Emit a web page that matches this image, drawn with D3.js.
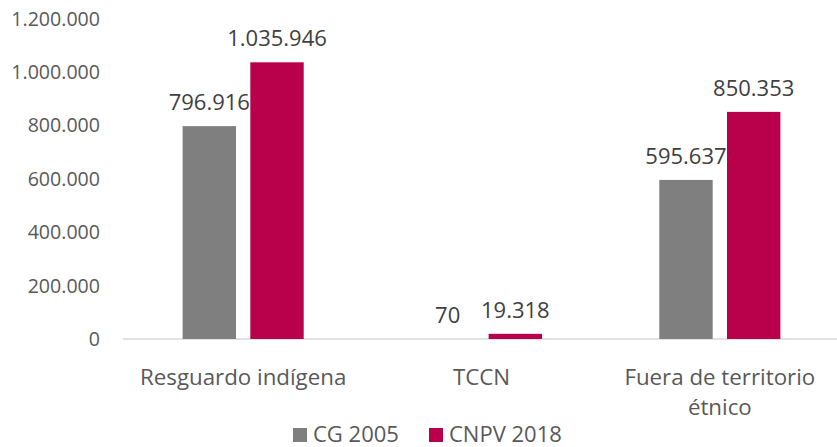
<!DOCTYPE html>
<html>
<head>
<meta charset="utf-8">
<script src="https://cdn.jsdelivr.net/npm/d3@7"></script>
<style>
  html, body { margin: 0; padding: 0; background: #fff; }
  svg { display: block; font-family: "Open Sans", "Noto Sans", sans-serif; }
</style>
</head>
<body>
<svg id="chart" width="837" height="447"></svg>
<script>
const categories = ["Resguardo indígena", "TCCN", "Fuera de territorio étnico"];
const categoryLines = [["Resguardo indígena"], ["TCCN"], ["Fuera de territorio", "étnico"]];
const seriesNames = ["CG 2005", "CNPV 2018"];
const cg2005 = [796916, 70, 595637];
const cnpv2018 = [1035946, 19318, 850353];
const yTicks = [0, 200000, 400000, 600000, 800000, 1000000, 1200000];
const colors = ["#7f7f7f", "#b8004b"];

const svg = d3.select("#chart");
const textColor = "#595959";
const fmt = v => d3.format(",")(v).replace(/,/g, ".");

const x = d3.scaleBand().domain(categories).range([124, 839]).paddingInner(0).paddingOuter(0);
const y = d3.scaleLinear().domain([0, 1200000]).range([339, 18.5]);
const barW = 53.4, gap = 14.3;

// y tick labels
svg.append("g").selectAll("text").data(yTicks).join("text")
  .attr("x", 100).attr("y", d => y(d)).attr("dy", "0.36em")
  .attr("text-anchor", "end").attr("font-size", 19.6).attr("fill", textColor)
  .text(fmt);

// baseline
svg.append("line").attr("x1", 123).attr("x2", 837)
  .attr("y1", y(0)).attr("y2", y(0))
  .attr("stroke", "#d9d9d9").attr("stroke-width", 1.3);

const series = [cg2005, cnpv2018];
series.forEach((vals, si) => {
  const g = svg.append("g");
  const bx = (c) => x(c) + x.bandwidth() / 2 + (si === 0 ? -gap / 2 - barW : gap / 2);
  g.selectAll("rect").data(categories).join("rect")
    .attr("x", c => bx(c))
    .attr("y", (c, i) => y(vals[i]))
    .attr("width", barW)
    .attr("height", (c, i) => y(0) - y(vals[i]))
    .attr("fill", colors[si]);
  g.selectAll("text").data(categories).join("text")
    .attr("x", c => bx(c) + barW / 2)
    .attr("y", (c, i) => y(vals[i]) - 16)
    .attr("text-anchor", "middle").attr("font-size", 22).attr("fill", "#404040")
    .text((c, i) => fmt(vals[i]));
});

// category labels
categories.forEach((c, i) => {
  const t = svg.append("text")
    .attr("x", x(c) + x.bandwidth() / 2).attr("y", 385)
    .attr("text-anchor", "middle").attr("font-size", 22.3).attr("fill", textColor);
  categoryLines[i].forEach((line, li) => {
    t.append("tspan").attr("x", x(c) + x.bandwidth() / 2).attr("dy", li === 0 ? 0 : 29.5).text(line);
  });
});

// legend
const legendX = [293, 429];
seriesNames.forEach((n, i) => {
  svg.append("rect").attr("x", legendX[i]).attr("y", 428).attr("width", 14).attr("height", 14)
    .attr("fill", colors[i]);
  svg.append("text").attr("x", legendX[i] + 20).attr("y", 442)
    .attr("font-size", 22).attr("fill", textColor).text(n);
});
</script>
</body>
</html>
